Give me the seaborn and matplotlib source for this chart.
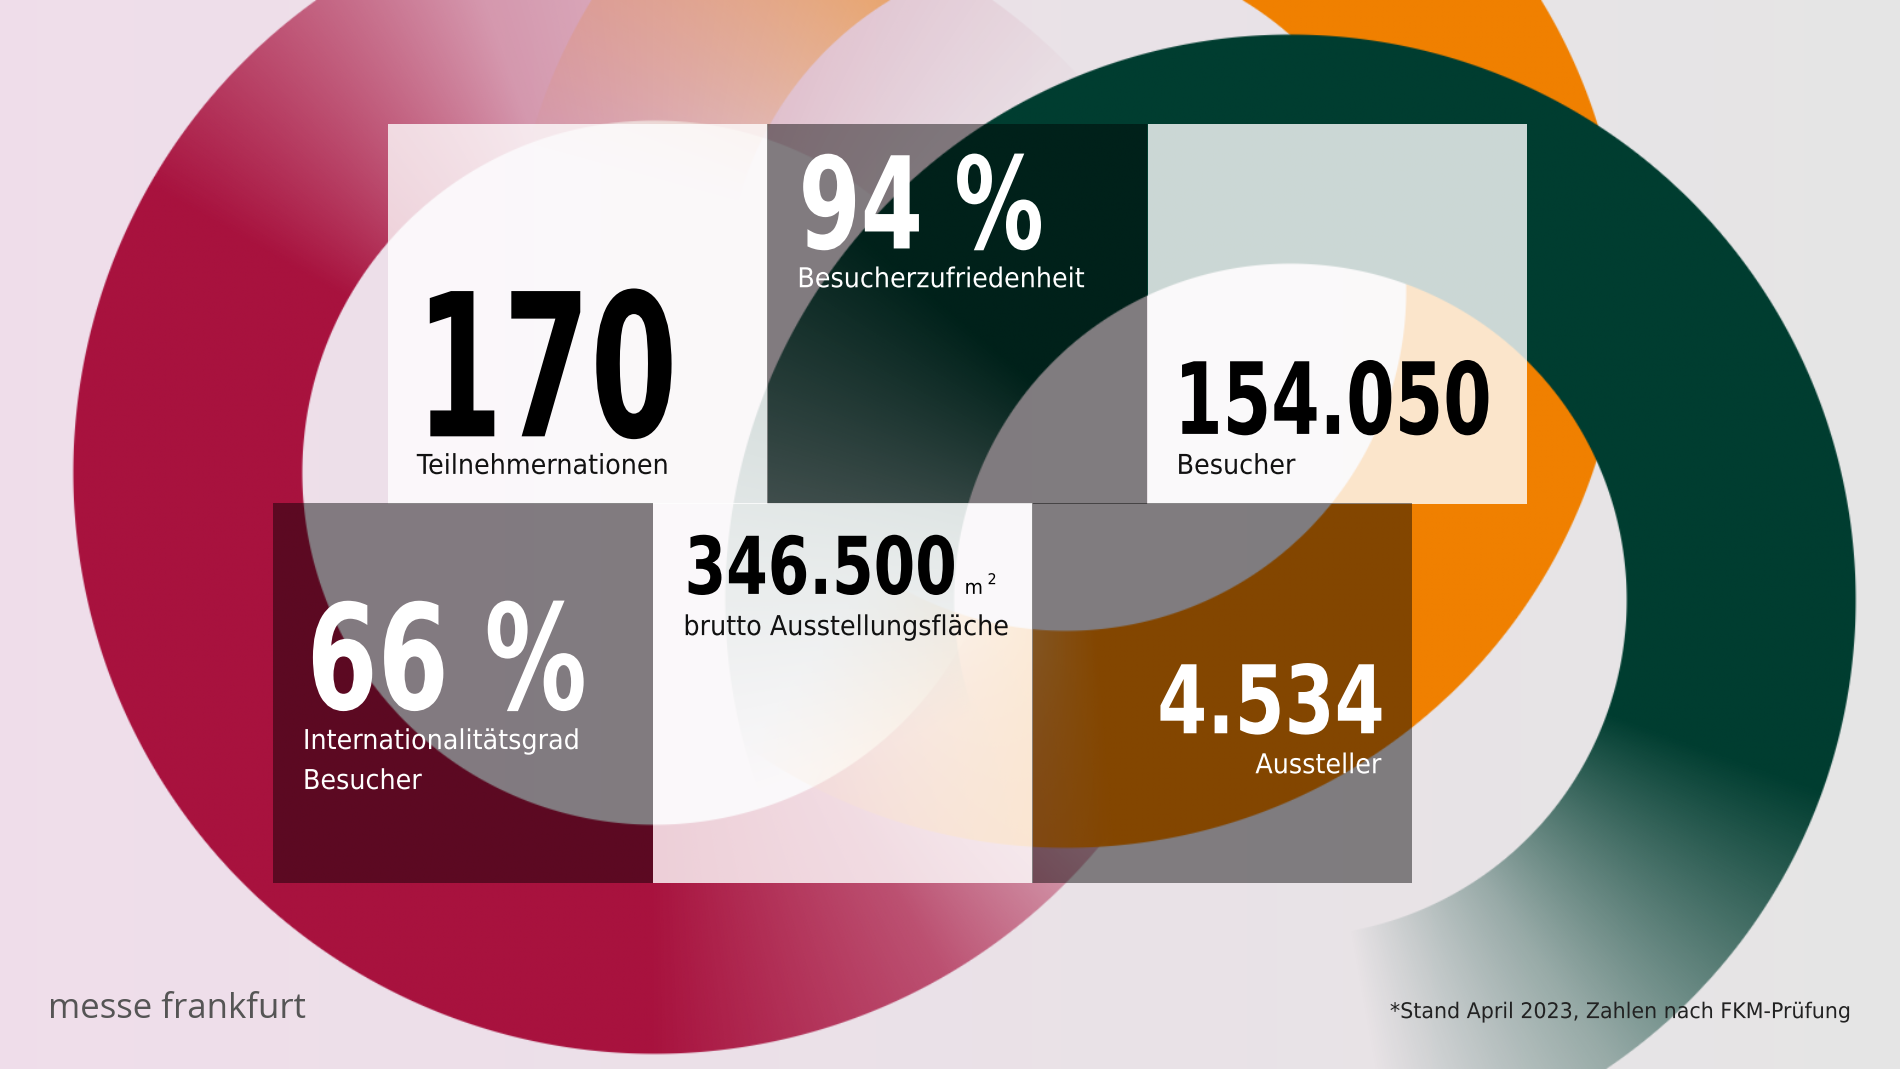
import numpy as np
import matplotlib
matplotlib.use("Agg")
import matplotlib.pyplot as plt
from matplotlib.patches import Rectangle, PathPatch
from matplotlib.textpath import TextPath
from matplotlib.font_manager import FontProperties
from matplotlib.transforms import Affine2D
import seaborn as sns

# Kennzahlen (Werte und Beschriftungen)
kpi_values = ["170", "94 %", "154.050", "66 %", "346.500", "4.534"]
kpi_labels = ["Teilnehmernationen", "Besucherzufriedenheit", "Besucher",
              "Internationalitätsgrad", "Besucher", "brutto Ausstellungsfläche", "Aussteller"]
footnote = "*Stand April 2023, Zahlen nach FKM-Prüfung"
brand = "messe frankfurt"

sns.set_theme(style="white")
W, H = 1568, 882
BOLD = FontProperties(family="DejaVu Sans", weight="bold")
REG = FontProperties(family="DejaVu Sans")

fig = plt.figure(figsize=(19, 10.69), dpi=100)
ax = fig.add_axes([0, 0, 1, 1])
ax.set_xlim(0, W)
ax.set_ylim(H, 0)
ax.axis("off")

# Hintergrund-Verlauf
grad = np.linspace(0, 1, 256)[None, :]
c0 = np.array([0.94, 0.87, 0.92])
c1 = np.array([0.90, 0.90, 0.90])
bg = c0[None, None, :] * (1 - grad[..., None]) + c1[None, None, :] * grad[..., None]
ax.imshow(bg, extent=(0, W, H, 0), aspect="auto", zorder=0)

yy, xx = np.mgrid[0:H, 0:W] + 0.5


def ring(cx, cy, r_in, r_out, color, pts):
    angs = np.array([p[0] for p in pts], float)
    alps = np.array([p[1] for p in pts], float)
    r = np.hypot(xx - cx, yy - cy)
    phi = np.degrees(np.arctan2(-(yy - cy), xx - cx))
    phi = (phi - angs.min()) % 360 + angs.min()
    a = np.interp(phi, angs, alps, left=0, right=0)
    a *= np.clip(r - r_in, 0, 1) * np.clip(r_out - r, 0, 1)
    rgba = np.zeros((H, W, 4))
    rgba[..., :3] = matplotlib.colors.to_rgb(color)
    rgba[..., 3] = a
    ax.imshow(rgba, extent=(0, W, H, 0), aspect="auto", zorder=1, interpolation="bilinear")


ring(540, 390, 290, 480, "#a8123e", [(40, 0), (110, 0.35), (150, 1), (270, 1), (300, 0.7), (335, 0)])
ring(880, 240, 280, 460, "#f08000", [(-125, 0), (-85, 1), (60, 1), (110, 0.6), (165, 0)])
ring(1065, 495, 277, 467, "#003d30", [(-80, 0), (-55, 0.35), (-20, 1), (140, 1), (200, 0)])

# Kacheln
tiles = [(320, 102, "white", 0.78), (633, 102, "black", 0.45), (947, 102, "white", 0.8),
         (225, 415, "black", 0.45), (539, 415, "white", 0.8), (852, 415, "black", 0.45)]
for x, y, c, a in tiles:
    ax.add_patch(Rectangle((x, y), 313.5, 313.5, facecolor=c, alpha=a, lw=0, zorder=2))


def ntext(x, y, s, cap, color, prop=BOLD, sx=0.72, ha="left"):
    # schmale Schrift: Textpfad horizontal gestaucht, cap = Versalhöhe in px
    size = cap / 0.73
    tp = TextPath((0, 0), s, size=size, prop=prop)
    w = tp.get_extents().x1 * sx
    x0 = x - w if ha == "right" else x
    path = Affine2D().scale(sx, -1).translate(x0, y).transform_path(tp)
    ax.add_patch(PathPatch(path, facecolor=color, lw=0, zorder=3))


LS = 0.93
ntext(343, 360, kpi_values[0], 120, "black", sx=0.63)
ntext(344, 391, kpi_labels[0], 16.5, "#111", REG, LS)
ntext(659, 205, kpi_values[1], 77, "white", sx=0.70)
ntext(658, 237, kpi_labels[1], 16.5, "white", REG, LS)
ntext(969, 358, kpi_values[2], 60, "black", sx=0.70)
ntext(971, 391, kpi_labels[2], 16.5, "#111", REG, LS)
ntext(253, 585, kpi_values[3], 88, "white", sx=0.70)
ntext(250, 618, kpi_labels[3], 16.5, "white", REG, LS)
ntext(250, 651, kpi_labels[4], 16.5, "white", REG, LS)
ntext(565, 490, kpi_values[4], 48, "black", sx=0.75)
ntext(796, 490, "m", 12, "black", REG, 0.95)
ntext(815, 482, "2", 9, "black", REG, 0.95)
ntext(564, 524, kpi_labels[5], 16.5, "#111", REG, LS)
ntext(1140, 605, kpi_values[5], 57, "white", sx=0.76, ha="right")
ntext(1140, 638, kpi_labels[6], 16.5, "white", REG, LS, ha="right")

ax.text(40, 840, brand, fontsize=25, color="#555", family="Open Sans", va="baseline", zorder=3)
ntext(1526, 840, footnote, 13, "#222", REG, 0.955, ha="right")

fig.savefig("out.png", dpi=100)
